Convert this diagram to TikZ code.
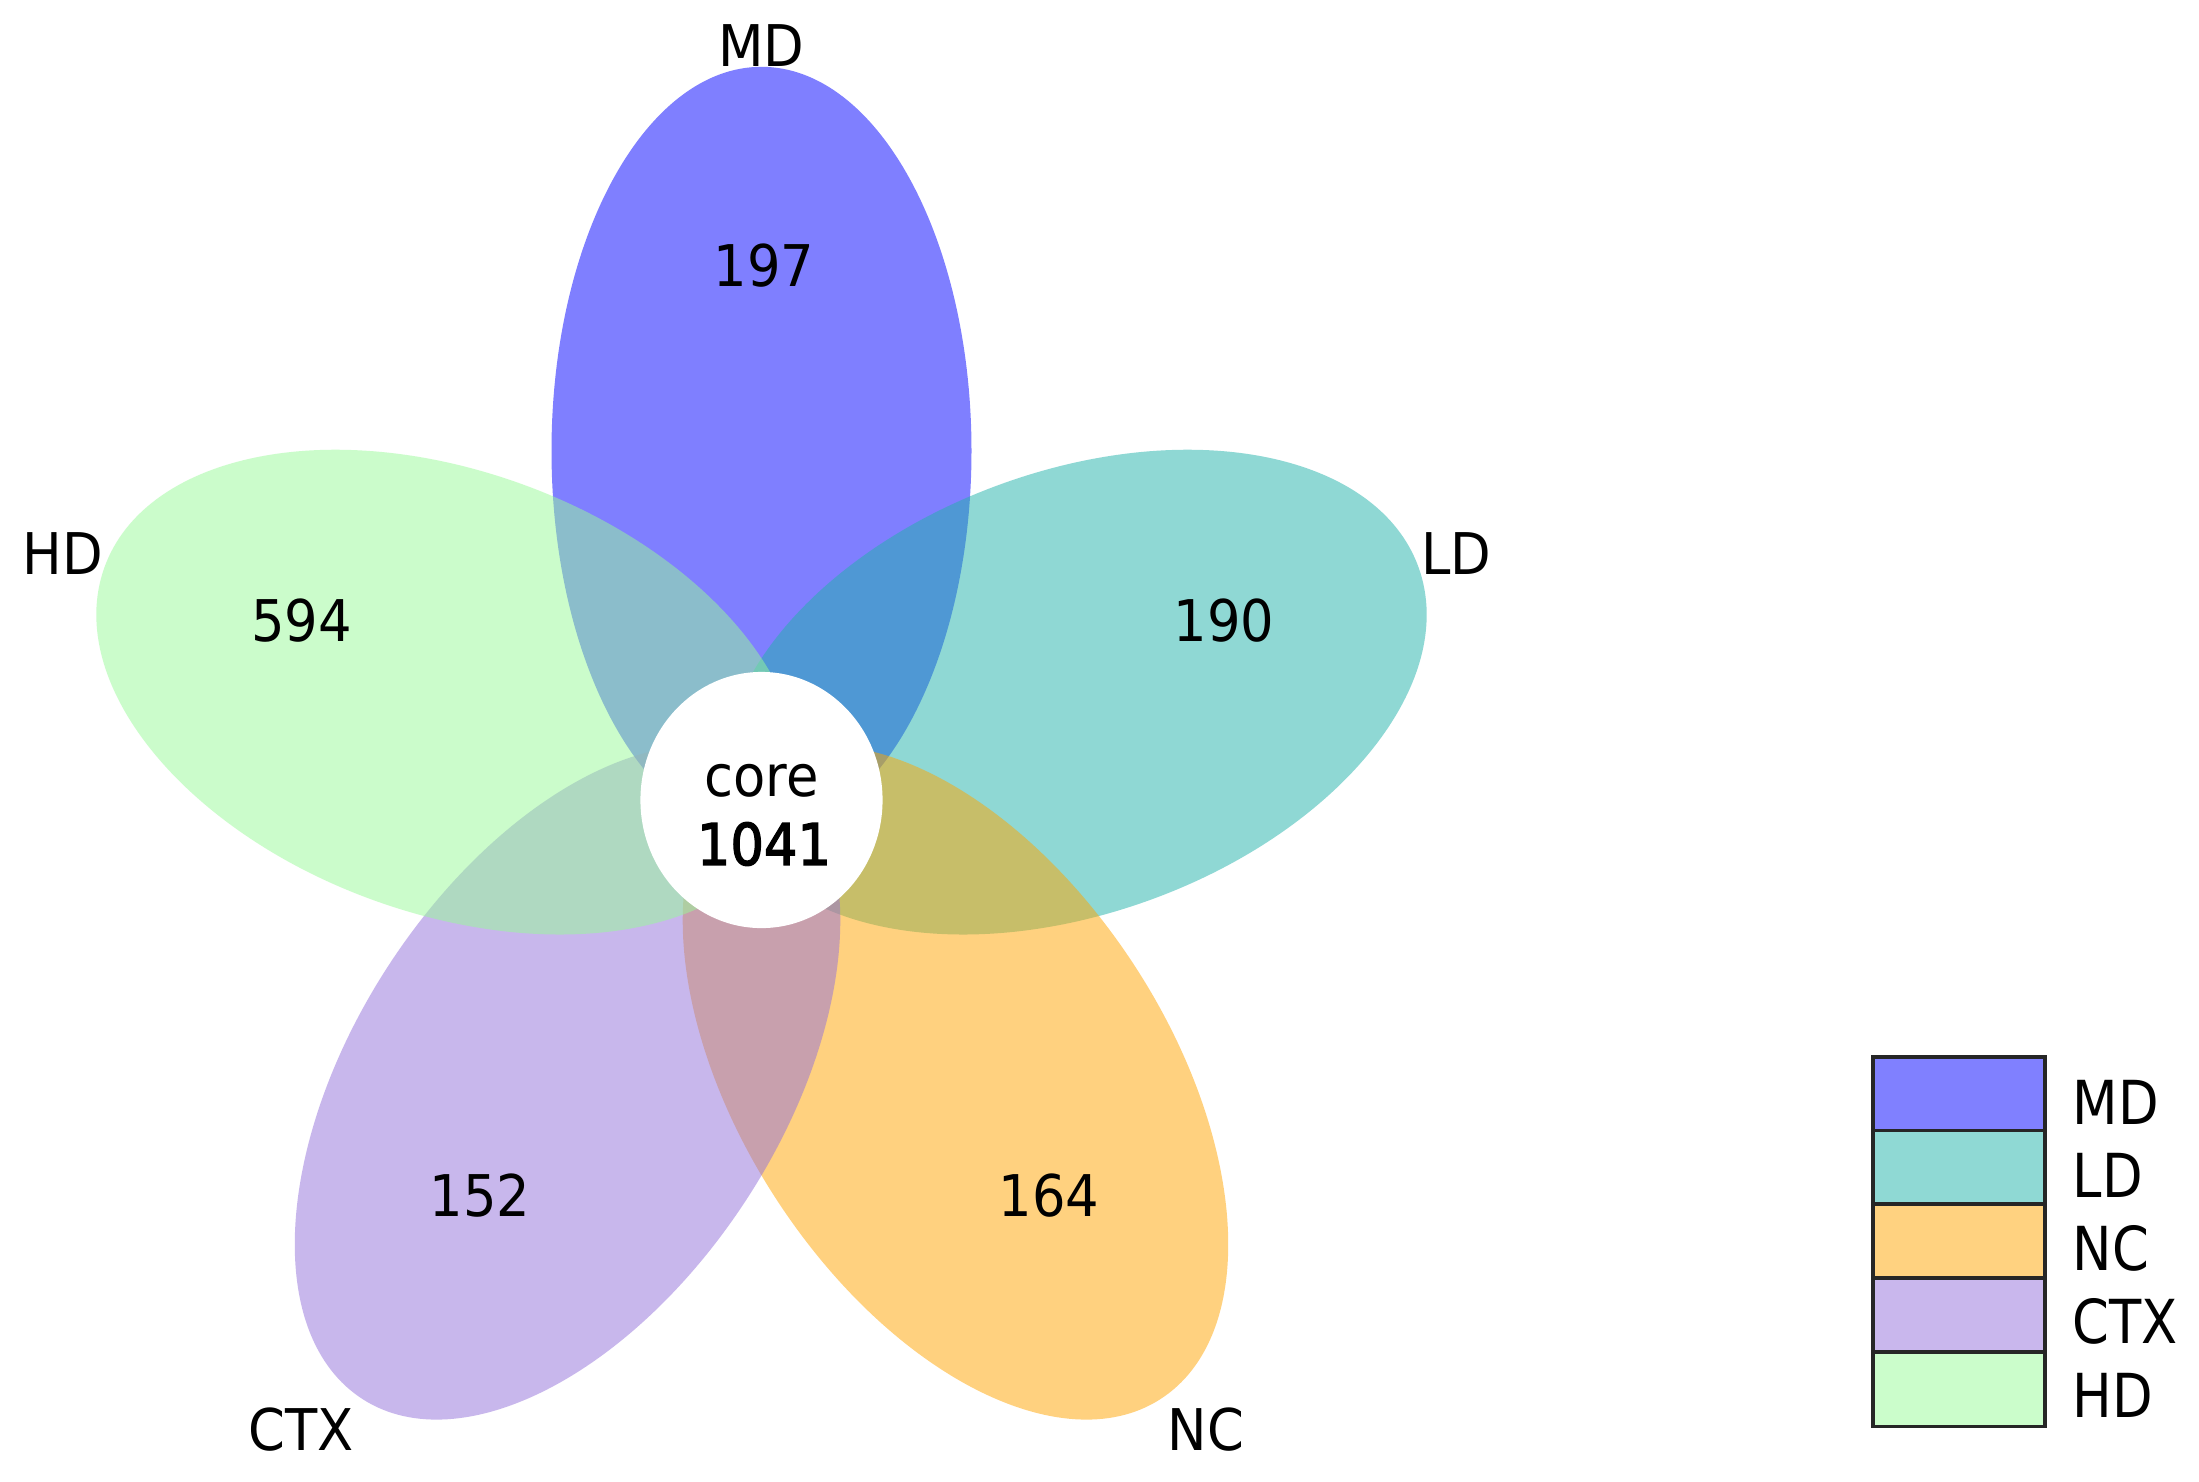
\documentclass[tikz,border=0pt]{standalone}
\usepackage{fontspec}
\usepackage{graphicx}
\setmainfont{DejaVu Sans}
\newfontfamily\semibfont[FakeBold=2.5]{DejaVu Sans}
\usetikzlibrary{shapes.geometric}
\definecolor{mdc}{RGB}{0,0,255}
\definecolor{ldc}{RGB}{32,178,170}
\definecolor{ncc}{RGB}{255,165,0}
\definecolor{ctxc}{RGB}{147,112,219}
\definecolor{hdc}{RGB}{152,251,152}
\newcommand\vstr[1]{\scalebox{1}[1.09]{#1}}
\newcommand\vstrl[1]{\scalebox{1}[1.15]{#1}}
\tikzset{
  petal/.style={fill opacity=0.5},
  lbl/.style={font=\fontsize{15}{18}\selectfont, inner sep=0pt},
  legbox/.style={draw=black!85, line width=0.9pt, minimum width=1.72cm, minimum height=0.74cm, inner sep=0pt},
  legtxt/.style={font=\fontsize{15}{18}\selectfont, anchor=west, inner sep=0pt},
}
\begin{document}
\begin{tikzpicture}[x=0.01cm,y=0.01cm]
\useasboundingbox[fill=white] (0,0) rectangle (2199,-1481);
% petals
\begin{scope}[shift={(761.5,-800)}, yscale=1.058]
  \fill[mdc, petal, rotate=90] (330,0) ellipse [x radius=363, y radius=210];
  \fill[ldc, petal, rotate=18] (330,0) ellipse [x radius=363, y radius=210];
  \fill[ncc, petal, rotate=-54] (330,0) ellipse [x radius=363, y radius=210];
  \fill[ctxc, petal, rotate=234] (330,0) ellipse [x radius=363, y radius=210];
  \fill[hdc, petal, rotate=162] (330,0) ellipse [x radius=363, y radius=210];
\end{scope}
% core
\node[ellipse, fill=white, minimum width=2.42cm, minimum height=2.56cm, inner sep=0pt] (core) at (761.5,-800) {};
\node[lbl] (coret) at (761.5,-781) {\vstr{core}};
\node[lbl] (corev) at (764,-844) {\vstr{\semibfont 1041}};
% set labels
\node[lbl] (lmd) at (761.5,-46) {\vstr{MD}};
\node[lbl] (lhd) at (63,-554) {\vstr{HD}};
\node[lbl] (lld) at (1456,-554) {\vstr{LD}};
\node[lbl] (lctx) at (301.5,-1430) {\vstr{CTX}};
\node[lbl] (lnc) at (1206,-1430) {\vstr{NC}};
% counts
\node[lbl] (vmd) at (764,-266) {\vstr{197}};
\node[lbl] (vhd) at (301.5,-621) {\vstr{594}};
\node[lbl] (vld) at (1224,-621) {\vstr{190}};
\node[lbl] (vctx) at (480,-1196) {\vstr{152}};
\node[lbl] (vnc) at (1049,-1196) {\vstr{164}};
% legend
\node[legbox, fill=mdc!50!white] (bmd) at (1959,-1094) {};
\node[legbox, fill=ldc!50!white] (bld) at (1959,-1167.5) {};
\node[legbox, fill=ncc!50!white] (bnc) at (1959,-1241) {};
\node[legbox, fill=ctxc!50!white] (bctx) at (1959,-1315) {};
\node[legbox, fill=hdc!50!white] (bhd) at (1959,-1389.5) {};
\node[legtxt] (tmd) at (2072,-1102) {\vstrl{MD}};
\node[legtxt] (tld) at (2072,-1175) {\vstrl{LD}};
\node[legtxt] (tnc) at (2072,-1248) {\vstrl{NC}};
\node[legtxt] (tctx) at (2072,-1321) {\vstrl{CTX}};
\node[legtxt] (thd) at (2072,-1395) {\vstrl{HD}};
\end{tikzpicture}
\end{document}
